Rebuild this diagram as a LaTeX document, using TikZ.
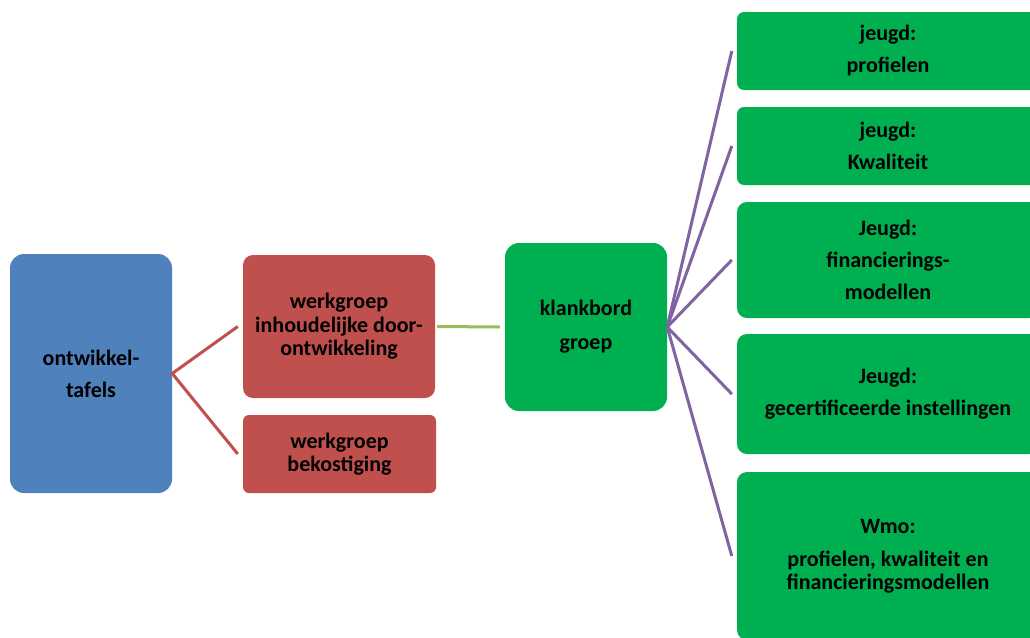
\documentclass[tikz,border=0pt]{standalone}
\usepackage{fontspec}
\setmainfont{Carlito}
\definecolor{cblue}{HTML}{4F81BD}
\definecolor{cred}{HTML}{C0504D}
\definecolor{cgreen}{HTML}{00B050}
\definecolor{clgreen}{HTML}{9BBB59}
\definecolor{cpurple}{HTML}{8064A2}
\begin{document}
\begin{tikzpicture}[x=1pt,y=-1pt,
  box/.style={rounded corners=10pt, inner sep=0pt, align=center, text=black,
    font=\fontsize{22}{23.5}\selectfont\bfseries},
  conn/.style={line width=3pt}]
\clip (0,0) rectangle (1030,637);
\fill[white] (0,0) rectangle (1030,637);
\node[box, fill=cblue, minimum width=162pt, minimum height=239pt, rounded corners=14pt] (ot) at (91,373.5) {ontwikkel-\\[8.5pt]tafels};
\node[box, fill=cred, minimum width=192pt, minimum height=143pt] (w1) at (339,326.5) {werkgroep\\inhoudelijke door-\\ontwikkeling};
\node[box, fill=cred, minimum width=193pt, minimum height=78pt, rounded corners=6pt] (w2) at (339.5,454) {werkgroep\\bekostiging};
\node[box, fill=cgreen, minimum width=162pt, minimum height=168pt, rounded corners=14pt] (kb) at (586,327) {klankbord\\[10.5pt]groep};
\node[box, fill=cgreen, minimum width=302pt, minimum height=78pt, rounded corners=7pt] (j1) at (888,51) {jeugd:\\[8.5pt]profielen};
\node[box, fill=cgreen, minimum width=302pt, minimum height=78pt, rounded corners=7pt] (j2) at (888,146) {jeugd:\\[8.5pt]Kwaliteit};
\node[box, fill=cgreen, minimum width=302pt, minimum height=116pt] (j3) at (888,260) {Jeugd:\\[8.5pt]financierings-\\[8.5pt]modellen};
\node[box, fill=cgreen, minimum width=302pt, minimum height=120pt] (j4) at (888,394) {Jeugd:\\[8.5pt]gecertificeerde instellingen};
\node[box, fill=cgreen, minimum width=302pt, minimum height=168pt] (j5) at (888,556) {Wmo:\\[9.5pt]profielen, kwaliteit en\\financieringsmodellen};
\draw[conn, cred] ([xshift=-5pt]w1.west) -- (ot.east) -- ([xshift=-5pt]w2.west);
\draw[conn, clgreen] ([xshift=2pt]w1.east) -- ([xshift=-5pt]kb.west);
\foreach \n in {j1,j2,j3,j4,j5}
  \draw[conn, cpurple] (kb.east) -- ([xshift=-5pt]\n.west);
\end{tikzpicture}
\end{document}
